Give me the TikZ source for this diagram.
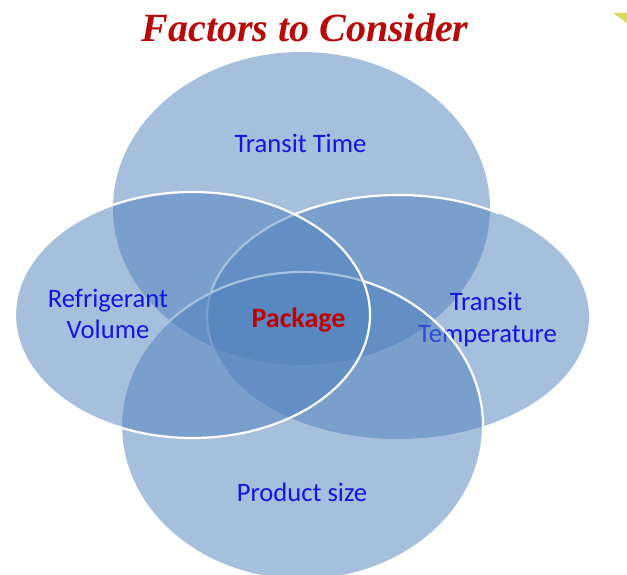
\documentclass[tikz,border=0pt]{standalone}
\usepackage{fontspec}
\setmainfont{Carlito}
\newfontfamily\titlefont{Liberation Serif}
\definecolor{vennblue}{HTML}{4F81BD}
\definecolor{labelblue}{RGB}{20,20,230}
\definecolor{pkgred}{RGB}{192,0,0}
\definecolor{titlered}{RGB}{184,8,8}
\definecolor{cornergreen}{RGB}{205,215,60}
\tikzset{
  vennfill/.style={fill=vennblue, fill opacity=0.5},
  vennline/.style={draw=white, line width=2.2pt},
  lbl/.style={text=labelblue, anchor=base, inner sep=0pt, font=\fontsize{26.6}{30}\selectfont},
  pkg/.style={text=pkgred, anchor=base, inner sep=0pt, font=\fontsize{28}{32}\selectfont\bfseries},
  ttl/.style={text=titlered, anchor=base, inner sep=0pt, font=\titlefont\fontsize{40}{44}\selectfont\bfseries\itshape}
}
\begin{document}
\begin{tikzpicture}[x=1pt,y=1pt]
\useasboundingbox (0,0) rectangle (627,574);
\clip (0,0) rectangle (627,574);
\fill[white] (0,0) rectangle (627,574);
\coordinate (cT) at (301.5,365.5);
\coordinate (cR) at (398,257);
\coordinate (cB) at (302,148);
\coordinate (cL) at (192.5,259);
% corner fragment
\fill[cornergreen, opacity=0.85] (613,561) -- (627,561) -- (627,551) -- cycle;
% title
\node[ttl] (title) at (305,532) {Factors to Consider};
% top ellipse
\fill[vennfill] (cT) ellipse [x radius=188.5, y radius=156.5];
\node[lbl] (time) at (300.5,421) {Transit Time};
% right ellipse
\fill[vennfill] (cR) ellipse [x radius=191, y radius=122];
\draw[vennline] ([shift={(58:191 and 122)}]cR) arc [start angle=58, end angle=207, x radius=191, y radius=122];
\node[lbl] (tempA) at (486,263) {Transit};
\node[lbl] (tempB) at (487.5,232) {Temperature};
% bottom ellipse
\fill[vennfill] (cB) ellipse [x radius=181, y radius=154];
\draw[vennline] (cB) ellipse [x radius=181, y radius=154];
\node[lbl] (size) at (302,73) {Product size};
% left ellipse
\fill[vennfill] (cL) ellipse [x radius=177.5, y radius=123];
\draw[vennline] (cL) ellipse [x radius=177.5, y radius=123];
\node[lbl] (volA) at (108,266) {Refrigerant};
\node[lbl] (volB) at (108,236) {Volume};
% centre
\node[pkg] (package) at (298.5,247) {Package};
\end{tikzpicture}
\end{document}
